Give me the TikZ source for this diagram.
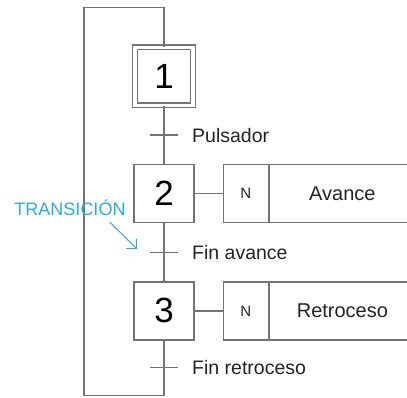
\documentclass[tikz,border=0pt]{standalone}
\usepackage{fontspec}
\setmainfont{Liberation Sans}
\usetikzlibrary{positioning,arrows.meta}
\definecolor{stepgray}{RGB}{115,115,115}
\definecolor{labelblue}{RGB}{41,170,225}
\definecolor{textdark}{RGB}{35,35,35}
\begin{document}
\begin{tikzpicture}[x=1pt,y=-1pt]
\tikzstyle{ln}=[draw=stepgray,line width=1.2pt]
\tikzstyle{step box}=[rectangle,ln,minimum width=60pt,minimum height=58pt,inner sep=0,font=\fontsize{35}{38}\selectfont]
\tikzstyle{init box}=[step box,minimum width=58pt,double,double distance=3.6pt]
\tikzset{
	act n/.style={rectangle,ln,minimum width=45pt,minimum height=58pt,inner sep=0,text=textdark,font=\fontsize{15}{17}\selectfont},
	act text/.style={rectangle,ln,minimum width=146pt,minimum height=58pt,inner sep=0,text=textdark,font=\fontsize{20}{22}\selectfont},
	cond/.style={inner sep=0,anchor=west,text=textdark,font=\fontsize{19.5}{22}\selectfont},
	pointer/.style={draw=labelblue,line width=1pt,-{Straight Barb[angle=90:10pt]}}
}
\useasboundingbox (0,0) rectangle (407,398);
\clip (0,0) rectangle (407,398);
% steps
\node[init box] (s1) at (164,76.5) {1};
\node[step box,below=58pt of s1] (s2) {2};
\node[step box,below=58pt of s2] (s3) {3};
% transitions
\path (s1) -- coordinate[midway] (t1) (s2);
\path (s2) -- coordinate[midway] (t2) (s3);
\coordinate[below=27pt of s3] (t3);
\coordinate[below=55pt of s3] (rb);
\coordinate[left=80pt of rb] (lb);
\coordinate[above=39pt of s1] (top);
\draw[ln] (s1) -- (s2) -- (s3);
\draw[ln] (s3.south) -- (rb) -- (lb) |- (top) -- (s1.north);
\foreach \t in {t1,t2,t3}
	\draw[ln] ([xshift=-14pt]\t) -- ([xshift=14pt]\t);
\node[cond,right=28pt of t1] (c1) {Pulsador};
\node[cond,right=28pt of t2] (c2) {Fin avance};
\node[cond,right=28pt of t3] (c3) {Fin retroceso};
% actions
\node[act n,right=28pt of s2] (n2) {N};
\node[act text,right=0pt of n2] (a2) {Avance};
\node[act n,right=28pt of s3] (n3) {N};
\node[act text,right=0pt of n3] (a3) {Retroceso};
\draw[ln] (s2) -- (n2);
\draw[ln] (s3) -- (n3);
% label
\node[text=labelblue,inner sep=0,font=\fontsize{18}{20}\selectfont] (lbl) at (70,208) {TRANSICIÓN};
\coordinate (tip) at (137,249);
\draw[pointer] ([shift={(-16pt,-6pt)}]lbl.south east) -- (tip);
\end{tikzpicture}
\end{document}
